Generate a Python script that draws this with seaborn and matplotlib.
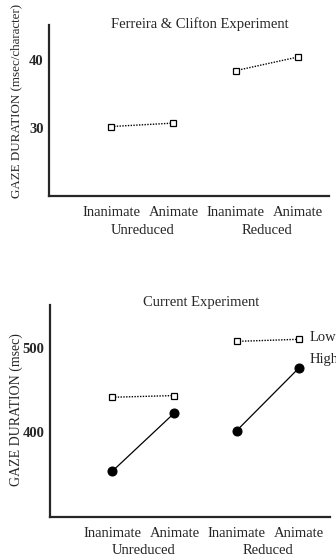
import matplotlib
matplotlib.use("Agg")
import matplotlib.pyplot as plt
import pandas as pd
import seaborn as sns

conditions = ["Inanimate", "Animate", "Inanimate", "Animate"]
clauses = ["Unreduced", "Unreduced", "Reduced", "Reduced"]

fc_values = [30.2, 30.7, 38.4, 40.4]
cur_low = [441.5, 443.5, 507.5, 510.0]
cur_high = [354.0, 423.0, 402.0, 476.0]

FS = 10.5


def make_frame(values):
    return pd.DataFrame({
        "pos": range(len(values)),
        "dur": values,
        "clause": clauses,
        "cond": conditions,
    })


def draw_series(ax, df, kind):
    if kind == "Low":
        sns.lineplot(data=df, x="pos", y="dur", units="clause", estimator=None,
                     color="black", ax=ax, linestyle=(0, (1.0, 1.0)), linewidth=1.0,
                     marker="s", markersize=5, markerfacecolor="white",
                     markeredgecolor="black", markeredgewidth=0.9)
    else:
        sns.lineplot(data=df, x="pos", y="dur", units="clause", estimator=None,
                     color="black", ax=ax, linewidth=0.9,
                     marker="o", markersize=6.5, markerfacecolor="black",
                     markeredgecolor="black")


def style_axis(ax, ylim, major, minor, ylabel, label_fs, title, label_y,
               title_y, group_y):
    ax.set_xlim(-1, 3.5)
    ax.set_ylim(*ylim)
    for s in ["top", "right"]:
        ax.spines[s].set_visible(False)
    for s in ["left", "bottom"]:
        ax.spines[s].set_linewidth(1.6)
    ax.set_yticks(major)
    ax.set_yticks(minor, minor=True)
    ax.set_xticks(range(4))
    ax.set_xticklabels(conditions, fontsize=FS)
    ax.tick_params(axis="y", which="major", direction="in", length=8, width=1.4,
                   labelsize=FS, pad=4)
    ax.tick_params(axis="y", which="minor", direction="in", length=3, width=1.0)
    ax.tick_params(axis="x", direction="in", length=9, width=1.4, pad=7)
    for lab in ax.get_yticklabels():
        lab.set_fontweight("bold")
    ax.set_xlabel("")
    ax.set_ylabel(ylabel, fontsize=label_fs)
    ax.yaxis.set_label_coords(-27 / 280, label_y)
    ax.text(0.54, title_y, title, transform=ax.transAxes, ha="center",
            va="center", fontsize=FS)
    tr = ax.get_xaxis_transform()
    ax.text(0.5, group_y, "Unreduced", transform=tr, ha="center", va="center",
            fontsize=FS)
    ax.text(2.5, group_y, "Reduced", transform=tr, ha="center", va="center",
            fontsize=FS)


sns.set_style("white")
plt.rcParams["font.family"] = ["Liberation Serif", "DejaVu Serif"]

W, H = 336, 557
fig = plt.figure(figsize=(W / 100, H / 100), dpi=100)


def px_axes(left, top, right, bottom):
    return fig.add_axes([left / W, 1 - bottom / H, (right - left) / W, (bottom - top) / H])


ax1 = px_axes(49, 25, 329, 196)
draw_series(ax1, make_frame(fc_values), "Low")
style_axis(ax1, (20, 45.1), [30, 40], [25, 35],
           "GAZE DURATION (msec/character)", 9.4, "Ferreira & Clifton Experiment",
           0.556, 1.005, -0.2)

ax2 = px_axes(50, 305, 330, 517)
draw_series(ax2, make_frame(cur_low), "Low")
draw_series(ax2, make_frame(cur_high), "High")
style_axis(ax2, (300, 550.5), [400, 500], [350, 450],
           "GAZE DURATION (msec)", 10, "Current Experiment",
           0.505, 1.01, -0.16)
ax2.text(3.18, cur_low[3] + 2, "Low", fontsize=FS, ha="left", va="center",
         clip_on=False)
ax2.text(3.18, cur_high[3] + 10, "High", fontsize=FS, ha="left", va="center",
         clip_on=False)

fig.savefig("out.png", dpi=100)
